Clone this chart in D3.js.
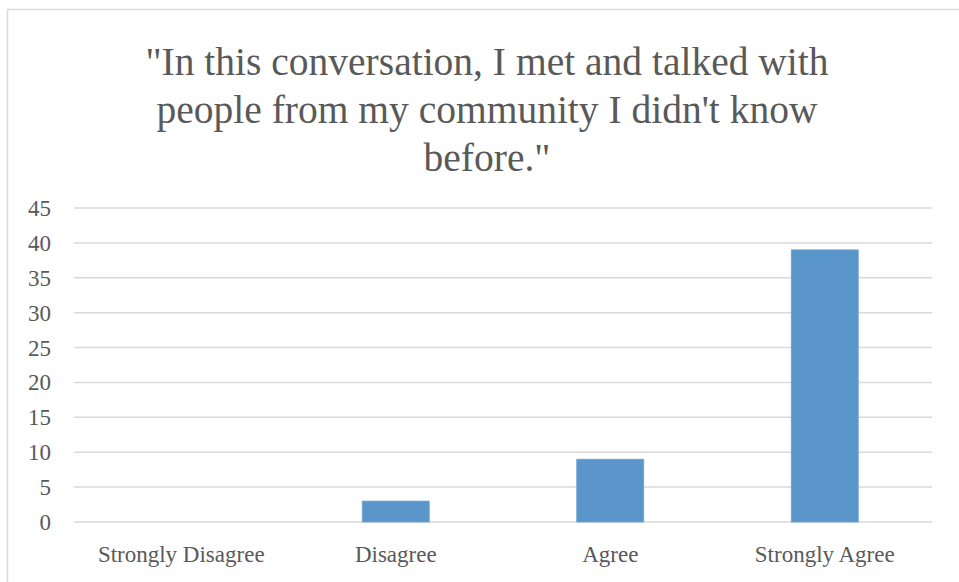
<!DOCTYPE html>
<html>
<head>
  <meta charset="utf-8">
  <title>Community conversation survey</title>
  <script src="https://d3js.org/d3.v7.min.js"></script>
  <style>
    body { margin: 0; background: #fff; }
    svg { display: block; font-family: "Liberation Serif", serif; }
    .grid line { stroke: #d9d9d9; stroke-width: 1.5px; }
    .lbl { fill: #595959; }
  </style>
</head>
<body>
  <svg></svg>
  <script>
    // data
    const categories = ["Strongly Disagree", "Disagree", "Agree", "Strongly Agree"];
    const counts = [0, 3, 9, 39];
    const yTicks = [0, 5, 10, 15, 20, 25, 30, 35, 40, 45];
    const titleLines = ["\"In this conversation, I met and talked with",
                        "people from my community I didn't know",
                        "before.\""];

    const width = 959, height = 582;
    const svg = d3.select("svg").attr("width", width).attr("height", height);

    // chart border
    svg.append("rect")
      .attr("x", 7.5).attr("y", 9.5)
      .attr("width", 980).attr("height", 600)
      .attr("fill", "none").attr("stroke", "#d9d9d9").attr("stroke-width", 1.5);

    const x = d3.scaleBand().domain(categories).range([74, 932])
      .paddingInner(0.6876).paddingOuter(0.3438);
    const y = d3.scaleLinear().domain([0, 45]).range([522, 208]);

    // gridlines
    svg.append("g").attr("class", "grid")
      .selectAll("line").data(yTicks).join("line")
        .attr("x1", 74).attr("x2", 932)
        .attr("y1", d => y(d)).attr("y2", d => y(d));

    // y labels
    svg.append("g").selectAll("text").data(yTicks).join("text")
      .attr("class", "lbl")
      .attr("x", 51).attr("y", d => y(d))
      .attr("dy", "0.35em")
      .attr("text-anchor", "end")
      .attr("font-size", 23)
      .text(d => d);

    // bars
    svg.append("g").selectAll("rect").data(counts).join("rect")
      .attr("x", (d, i) => x(categories[i]))
      .attr("width", x.bandwidth())
      .attr("y", d => y(d))
      .attr("height", d => y(0) - y(d))
      .attr("fill", "#5b96cb")
      .attr("stroke", "#6fa3d5").attr("stroke-width", 0.8);

    // x labels
    svg.append("g").selectAll("text").data(categories).join("text")
      .attr("class", "lbl")
      .attr("x", d => x(d) + x.bandwidth() / 2)
      .attr("y", 562)
      .attr("text-anchor", "middle")
      .attr("font-size", 23)
      .text(d => d);

    // title
    svg.append("g").selectAll("text").data(titleLines).join("text")
      .attr("class", "lbl")
      .attr("x", 487)
      .attr("y", (d, i) => 75 + i * 48)
      .attr("text-anchor", "middle")
      .attr("font-size", 39.5)
      .text(d => d);
  </script>
</body>
</html>
